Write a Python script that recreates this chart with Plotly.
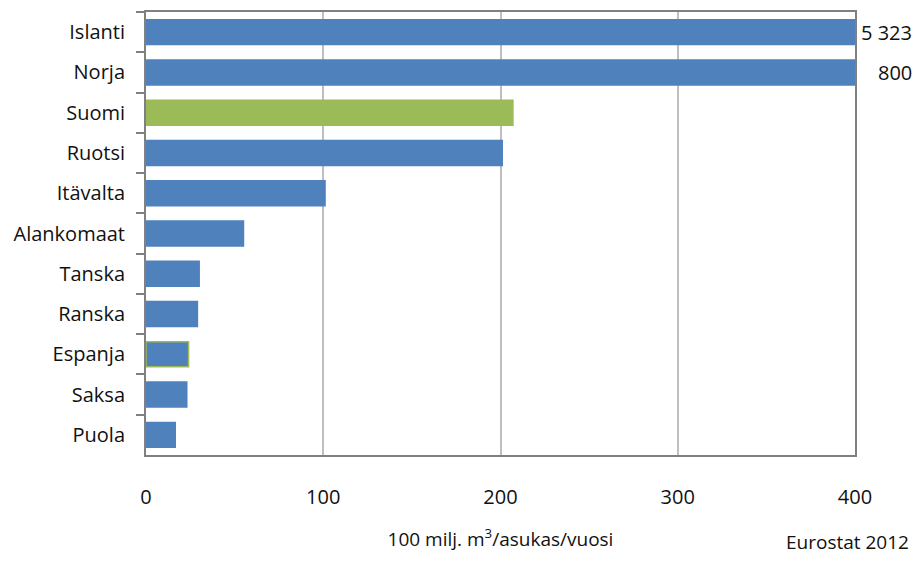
import plotly.graph_objects as go

countries = ["Islanti", "Norja", "Suomi", "Ruotsi", "Itävalta", "Alankomaat",
             "Tanska", "Ranska", "Espanja", "Saksa", "Puola"]
values = [5323, 800, 207, 201, 101, 55, 30, 29, 24, 23, 16.5]
x_ticks = [0, 100, 200, 300, 400]
labelled = ["Islanti", "Norja"]

BLUE = "#4F81BD"
GREEN = "#9BBB59"
fill = [GREEN if c == "Suomi" else BLUE for c in countries]
outline = [GREEN if c in ("Suomi", "Espanja") else BLUE for c in countries]

FONT = "Open Sans"

fig = go.Figure()
fig.add_trace(go.Bar(
    y=countries, x=values, orientation="h",
    marker=dict(color=fill, line=dict(color=outline, width=1.5)),
    hoverinfo="x+y",
))

for c, v in zip(countries, values):
    if c in labelled:
        txt = f"{v:,}".replace(",", " ")
        fig.add_annotation(x=400, y=c, xref="x", yref="y", text=txt,
                           showarrow=False, xanchor="right", xshift=59,
                           font=dict(family=FONT, size=20, color="#111"))

fig.add_annotation(x=1.0, y=0, xref="paper", yref="paper", yanchor="bottom",
                   xanchor="right", text="Eurostat 2012", showarrow=False,
                   xshift=56, yshift=-102,
                   font=dict(family=FONT, size=19, color="#111"))

fig.update_layout(
    width=915, height=561,
    margin=dict(l=146, r=60, t=10, b=106),
    paper_bgcolor="white", plot_bgcolor="white",
    bargap=0.38,
    showlegend=False,
    font=dict(family=FONT, size=20, color="#111"),
    xaxis=dict(
        range=[0, 400], tickvals=x_ticks, ticks="",
        showgrid=True, gridcolor="#BFBFBF", gridwidth=2,
        showline=True, linecolor="#808080", linewidth=2, mirror=True,
        zeroline=False, ticklabelstandoff=23,
        title=dict(text="100 milj. m<sup>3</sup>/asukas/vuosi",
                   font=dict(family=FONT, size=19), standoff=24),
    ),
    yaxis=dict(
        categoryorder="array", categoryarray=countries, autorange="reversed",
        ticks="outside", ticklen=8, tickcolor="#808080", tickwidth=2,
        tickson="boundaries",
        showline=True, linecolor="#808080", linewidth=2, mirror=True,
        showgrid=False, ticklabelstandoff=15,
    ),
)

fig.write_html("out.html")
